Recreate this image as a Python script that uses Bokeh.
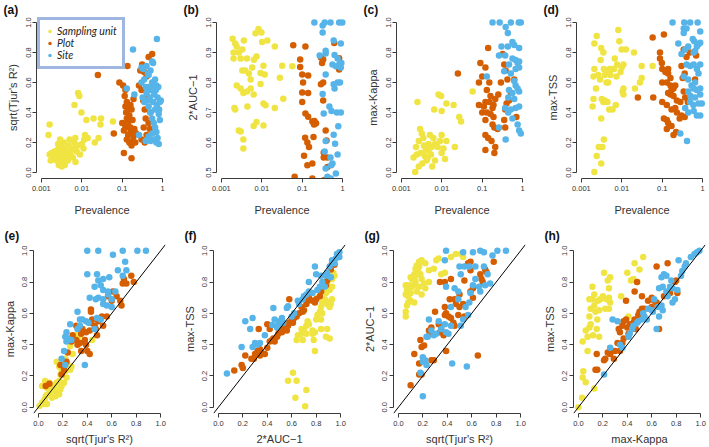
from bokeh.plotting import figure
from bokeh.models import (Range1d, FixedTicker, CustomJSTickFormatter, Slope,
                          Legend, LegendItem)
from bokeh.layouts import column, row
from bokeh.embed import file_html
from bokeh.resources import INLINE

YEL = "#F0E442"
ORA = "#D55E00"
BLU = "#56B4E9"

SERIES = ["Sampling unit", "Plot", "Site"]
PREV_TICKS = [0.001, 0.01, 0.1, 1]
UNIT_TICKS = [0.0, 0.2, 0.4, 0.6, 0.8, 1.0]
AUC_TICKS = [0.5, 0.6, 0.7, 0.8, 0.9, 1.0]

# ---------- (a) prevalence vs sqrt(Tjur's R2)
A_SU = [(0.0022,0.12),(0.0024,0.08),(0.0025,0.15),(0.0027,0.05),(0.0028,0.10),(0.0029,0.13),(0.0030,0.17),(0.0031,0.07),
        (0.0032,0.11),(0.0033,0.14),(0.0034,0.09),(0.0035,0.12),(0.0036,0.20),(0.0037,0.06),(0.0038,0.16),(0.0040,0.10),
        (0.0042,0.13),(0.0045,0.08),(0.0047,0.18),(0.0050,0.22),(0.0052,0.12),(0.0055,0.15),(0.0060,0.10),(0.0065,0.20),
        (0.0070,0.07),(0.0075,0.14),(0.0080,0.18),(0.0090,0.12),(0.0100,0.19),(0.0110,0.16),(0.0115,0.22),(0.0120,0.25),
        (0.0026,0.19),(0.0023,0.10),(0.0021,0.14),(0.0019,0.09),(0.0018,0.13),(0.0029,0.22),(0.0032,0.04),(0.0038,0.05),
        (0.0044,0.11),(0.0062,0.16),(0.0069,0.23),(0.0016,0.12),(0.0017,0.08),(0.0016,0.32),(0.0015,0.25),(0.0081,0.53),
        (0.0087,0.51),(0.0066,0.45),(0.0098,0.40),(0.0130,0.35),(0.0195,0.36),(0.0300,0.36),(0.0290,0.32),(0.0260,0.23),
        (0.0210,0.20),(0.0140,0.23),(0.0590,0.34)]
A_PL = [(0.025,0.65),(0.062,0.26),(0.085,0.60),(0.105,0.58),(0.11,0.13),(0.17,0.095),(0.135,0.71),(0.115,0.51),(0.12,0.44),
        (0.125,0.40),(0.13,0.36),(0.12,0.30),(0.11,0.28),(0.13,0.22),(0.14,0.42),(0.15,0.38),(0.14,0.33),(0.16,0.27),
        (0.15,0.20),(0.17,0.18),(0.18,0.21),(0.19,0.24),(0.16,0.45),(0.18,0.35),(0.20,0.29),(0.21,0.20),(0.22,0.26),
        (0.17,0.42),(0.19,0.49),(0.13,0.47),(0.28,0.68),(0.31,0.72),(0.35,0.67),(0.40,0.64),(0.45,0.77),(0.55,0.79),
        (0.58,0.60),(0.33,0.48),(0.36,0.42),(0.38,0.36),(0.34,0.30),(0.40,0.25),(0.45,0.33),(0.50,0.40),(0.42,0.50),
        (0.30,0.55),(0.48,0.29),(0.36,0.20),(0.30,0.22),(0.26,0.58),(0.12,0.55),(0.10,0.33),(0.14,0.25),(0.16,0.30)]
A_SI = [(0.185,0.82),(0.72,0.89),(0.13,0.56),(0.20,0.52),(0.26,0.25),(0.30,0.70),(0.33,0.69),(0.35,0.62),(0.30,0.60),
        (0.38,0.57),(0.40,0.53),(0.42,0.48),(0.35,0.47),(0.32,0.50),(0.45,0.44),(0.50,0.40),(0.55,0.36),(0.60,0.33),
        (0.65,0.30),(0.70,0.27),(0.45,0.24),(0.38,0.21),(0.50,0.21),(0.60,0.22),(0.70,0.20),(0.80,0.19),(0.75,0.23),
        (0.55,0.26),(0.85,0.35),(0.80,0.39),(0.90,0.48),(0.85,0.47),(0.75,0.50),(0.68,0.55),(0.60,0.57),(0.55,0.60),
        (0.50,0.55),(0.65,0.62),(0.70,0.58),(0.78,0.57),(0.45,0.65),(0.50,0.68),(0.58,0.73),(0.55,0.74),(0.40,0.71),
        (0.43,0.66),(0.62,0.52),(0.48,0.50),(0.45,0.57),(0.82,0.42),(0.72,0.45),(0.65,0.42),(0.58,0.47)]

# ---------- (b) prevalence vs 2*AUC-1
B_SU = [(0.0019,0.946),(0.0022,0.93),(0.0020,0.90),(0.0020,0.88),(0.0024,0.92),(0.0027,0.90),(0.0030,0.88),(0.0033,0.91),
        (0.0036,0.94),(0.0043,0.88),(0.0039,0.84),(0.0033,0.84),(0.0048,0.83),(0.0058,0.85),(0.0064,0.876),(0.0074,0.887),
        (0.0053,0.81),(0.0024,0.79),(0.0030,0.78),(0.0035,0.765),(0.0043,0.77),(0.0053,0.78),(0.0063,0.76),(0.0022,0.71),
        (0.0021,0.715),(0.0044,0.72),(0.0027,0.64),(0.0030,0.637),(0.0035,0.61),(0.0035,0.58),(0.0063,0.655),(0.0074,0.668),
        (0.0083,0.978),(0.0098,0.967),(0.0070,0.964),(0.0137,0.94),(0.0102,0.935),(0.021,0.92),(0.011,0.856),(0.0118,0.827),
        (0.0093,0.832),(0.0093,0.795),(0.011,0.73),(0.0124,0.724),(0.011,0.657),(0.021,0.715),(0.028,0.816),(0.032,0.856),
        (0.034,0.746),(0.057,0.854)]
B_PL = [(0.060,0.924),(0.12,0.92),(0.089,0.877),(0.089,0.852),(0.10,0.827),(0.105,0.80),(0.14,0.823),(0.10,0.767),
        (0.14,0.765),(0.10,0.735),(0.12,0.697),(0.14,0.686),(0.178,0.67),(0.20,0.672),(0.22,0.664),(0.196,0.66),
        (0.118,0.616),(0.134,0.60),(0.147,0.585),(0.111,0.556),(0.134,0.524),(0.178,0.53),(0.065,0.486),(0.178,0.48),
        (0.19,0.618),(0.31,0.865),(0.29,0.883),(0.33,0.877),(0.29,0.794),(0.33,0.74),(0.33,0.80),(0.34,0.567),
        (0.38,0.64),(0.40,0.607),(0.42,0.55),(0.42,0.518),(0.34,0.55),(0.62,0.932),(0.82,0.881),(0.82,0.843),(0.35,0.475)]
B_SI = [(0.20,1.0),(0.32,0.99),(0.36,1.0),(0.50,1.0),(0.82,1.0),(0.98,1.0),(0.32,0.967),(0.60,0.94),(0.90,0.93),
        (0.27,0.89),(0.38,0.897),(0.63,0.892),(0.75,0.88),(0.56,0.86),(0.68,0.854),(0.82,0.86),(0.93,0.865),(0.90,0.85),
        (0.38,0.827),(0.60,0.794),(0.75,0.80),(0.86,0.80),(0.63,0.78),(0.32,0.762),(0.34,0.697),(0.47,0.72),(0.53,0.705),
        (0.72,0.70),(0.90,0.70),(0.78,0.654),(0.60,0.626),(0.38,0.605),(0.65,0.596),(0.36,0.57),(0.50,0.55),(0.75,0.56),
        (0.56,0.53),(0.52,0.524),(0.38,0.513),(0.68,0.497),(0.42,0.486),(0.51,0.48),(0.38,0.906)]

# ---------- (c) prevalence vs max-Kappa
C_SU = [(0.0022,0.004),(0.0020,0.10),(0.0023,0.17),(0.0027,0.21),(0.0029,0.29),(0.0032,0.26),(0.0035,0.23),(0.0030,0.13),
        (0.0038,0.11),(0.0040,0.15),(0.0045,0.10),(0.0047,0.19),(0.0051,0.25),(0.0056,0.17),(0.0058,0.04),(0.0068,0.08),
        (0.0062,0.23),(0.0079,0.17),(0.0090,0.21),(0.0099,0.25),(0.011,0.16),(0.012,0.09),(0.0099,0.13),(0.0033,0.06),
        (0.0027,0.04),(0.0024,0.12),(0.0042,0.08),(0.0054,0.12),(0.0068,0.19),(0.0036,0.18),(0.0025,0.47),(0.0065,0.42),
        (0.0083,0.52),(0.0096,0.51),(0.0099,0.41),(0.013,0.46),(0.0196,0.45),(0.021,0.17),(0.027,0.37),(0.030,0.34),
        (0.058,0.54),(0.013,0.21),(0.0047,0.15)]
C_PL = [(0.025,0.66),(0.090,0.73),(0.10,0.64),(0.083,0.60),(0.14,0.83),(0.12,0.70),(0.15,0.60),(0.13,0.55),(0.16,0.51),
        (0.18,0.43),(0.12,0.47),(0.10,0.40),(0.11,0.44),(0.13,0.40),(0.16,0.39),(0.19,0.37),(0.12,0.35),(0.18,0.32),
        (0.20,0.30),(0.14,0.23),(0.12,0.25),(0.17,0.21),(0.12,0.15),(0.20,0.13),(0.21,0.17),(0.24,0.29),(0.21,0.49),
        (0.25,0.52),(0.29,0.60),(0.32,0.79),(0.38,0.68),(0.35,0.72),(0.42,0.62),(0.40,0.46),(0.37,0.42),(0.35,0.35),
        (0.37,0.30),(0.46,0.48),(0.51,0.53),(0.62,0.62),(0.70,0.37),(0.083,0.45),(0.15,0.47),(0.19,0.45)]
C_SI = [(0.18,1.0),(0.27,1.0),(0.51,1.0),(0.80,1.0),(0.90,1.0),(0.38,0.97),(0.43,0.93),(0.56,0.87),(0.30,0.84),
        (0.43,0.84),(0.62,0.85),(0.82,0.83),(0.26,0.78),(0.37,0.78),(0.56,0.76),(0.67,0.75),(0.75,0.73),(0.82,0.74),
        (0.46,0.72),(0.35,0.675),(0.51,0.66),(0.13,0.64),(0.67,0.69),(0.82,0.70),(0.62,0.61),(0.67,0.58),(0.46,0.55),
        (0.56,0.53),(0.75,0.56),(0.82,0.54),(0.44,0.50),(0.62,0.49),(0.37,0.43),(0.51,0.42),(0.67,0.43),(0.82,0.44),
        (0.44,0.40),(0.26,0.30),(0.38,0.22),(0.75,0.32),(0.82,0.28),(0.90,0.26),(0.56,0.36)]

# ---------- (d) prevalence vs max-TSS
D_SU = [(0.0019,0.44),(0.0020,0.49),(0.0023,0.56),(0.0020,0.64),(0.0021,0.69),(0.0024,0.91),(0.0021,0.86),(0.0026,0.65),
        (0.0029,0.62),(0.0030,0.75),(0.0031,0.83),(0.0035,0.80),(0.0036,0.69),(0.0038,0.65),(0.0032,0.49),(0.0035,0.47),
        (0.0038,0.48),(0.0044,0.47),(0.0042,0.60),(0.0046,0.60),(0.0049,0.67),(0.0050,0.69),(0.0056,0.69),(0.0052,0.65),
        (0.0049,0.42),(0.0059,0.42),(0.0064,0.69),(0.0067,0.76),(0.0071,0.45),(0.0077,0.72),(0.0082,0.95),(0.0087,0.875),
        (0.0093,0.67),(0.0074,0.64),(0.0099,0.70),(0.011,0.72),(0.0099,0.82),(0.0126,0.82),(0.011,0.56),(0.011,0.52),
        (0.0105,0.54),(0.020,0.80),(0.0212,0.56),(0.028,0.60),(0.031,0.71),(0.031,0.63),(0.058,0.71),(0.0021,0.004),
        (0.0024,0.11),(0.0027,0.17),(0.0033,0.17),(0.0036,0.22),(0.0031,0.06),(0.0031,0.36)]
D_PL = [(0.025,0.50),(0.058,0.90),(0.060,0.50),(0.11,0.92),(0.088,0.80),(0.088,0.76),(0.098,0.73),(0.10,0.69),(0.12,0.67),
        (0.14,0.69),(0.14,0.66),(0.16,0.63),(0.10,0.60),(0.13,0.60),(0.16,0.58),(0.17,0.55),(0.19,0.56),(0.21,0.58),
        (0.14,0.53),(0.16,0.52),(0.19,0.51),(0.23,0.48),(0.10,0.47),(0.13,0.45),(0.17,0.42),(0.21,0.43),(0.23,0.40),
        (0.11,0.36),(0.13,0.35),(0.14,0.33),(0.17,0.31),(0.19,0.25),(0.22,0.27),(0.27,0.36),(0.30,0.38),(0.36,0.37),
        (0.28,0.47),(0.34,0.54),(0.32,0.63),(0.36,0.66),(0.30,0.71),(0.40,0.77),(0.34,0.82),(0.48,0.80),(0.69,0.78),
        (0.43,0.47),(0.37,0.50),(0.65,0.62),(0.13,0.29)]
D_SI = [(0.18,1.0),(0.35,1.0),(0.49,1.0),(0.75,1.0),(0.34,0.96),(0.34,0.93),(0.40,0.96),(0.87,0.94),(0.25,0.86),
        (0.30,0.79),(0.37,0.82),(0.44,0.84),(0.57,0.89),(0.62,0.875),(0.72,0.84),(0.79,0.855),(0.87,0.865),(0.65,0.81),
        (0.60,0.80),(0.40,0.72),(0.49,0.71),(0.60,0.72),(0.72,0.69),(0.87,0.72),(0.34,0.64),(0.44,0.62),(0.79,0.66),
        (0.65,0.60),(0.53,0.58),(0.60,0.56),(0.72,0.55),(0.87,0.56),(0.44,0.54),(0.50,0.51),(0.65,0.50),(0.87,0.52),
        (0.37,0.43),(0.44,0.40),(0.60,0.41),(0.72,0.38),(0.95,0.46),(0.87,0.38),(0.41,0.21),(0.28,0.26),(0.49,0.47),
        (0.79,0.46),(0.59,0.45)]

# ---------- (e) sqrt(Tjur's R2) vs max-Kappa
E_SU = [(0.01,0.01),(0.03,0.03),(0.05,0.05),(0.06,0.07),(0.07,0.08),(0.09,0.09),(0.10,0.10),(0.11,0.11),(0.07,0.125),
        (0.13,0.135),(0.14,0.146),(0.10,0.135),(0.15,0.156),(0.17,0.167),(0.055,0.167),(0.09,0.156),(0.03,0.135),
        (0.14,0.104),(0.17,0.083),(0.18,0.115),(0.19,0.135),(0.21,0.156),(0.18,0.21),(0.19,0.24),(0.22,0.23),(0.23,0.19),
        (0.26,0.24),(0.27,0.26),(0.24,0.27),(0.17,0.26),(0.15,0.29),(0.22,0.31),(0.31,0.46),(0.34,0.46),(0.32,0.44),
        (0.44,0.43),(0.05,0.02),(0.07,0.02),(0.11,0.06),(0.14,0.07),(0.22,0.28),(0.26,0.39),(0.28,0.34)]
E_PL = [(0.06,0.135),(0.09,0.15),(0.18,0.27),(0.19,0.21),(0.21,0.24),(0.23,0.29),(0.24,0.35),(0.27,0.42),(0.28,0.46),
        (0.31,0.43),(0.32,0.40),(0.34,0.41),(0.35,0.47),(0.36,0.50),(0.38,0.43),(0.39,0.40),(0.40,0.36),(0.42,0.34),
        (0.39,0.48),(0.42,0.49),(0.43,0.54),(0.44,0.56),(0.43,0.625),(0.43,0.61),(0.46,0.52),(0.47,0.50),(0.48,0.46),
        (0.49,0.55),(0.52,0.58),(0.53,0.52),(0.56,0.58),(0.57,0.71),(0.60,0.68),(0.61,0.74),(0.64,0.71),(0.67,0.68),
        (0.68,0.65),(0.69,0.79),(0.70,0.82),(0.72,0.79),(0.76,0.84),(0.78,0.80),(0.35,0.36),(0.31,0.52)]
E_SI = [(0.40,1.0),(0.49,1.0),(0.61,0.975),(0.69,1.0),(0.81,1.0),(0.88,1.0),(0.71,0.93),(0.40,0.85),(0.48,0.85),
        (0.49,0.81),(0.53,0.82),(0.58,0.83),(0.65,0.875),(0.69,0.84),(0.72,0.875),(0.46,0.77),(0.51,0.78),(0.53,0.75),
        (0.57,0.74),(0.63,0.74),(0.47,0.69),(0.49,0.70),(0.53,0.69),(0.56,0.65),(0.60,0.64),(0.57,0.72),(0.42,0.70),
        (0.32,0.61),(0.34,0.56),(0.36,0.56),(0.39,0.55),(0.41,0.54),(0.48,0.57),(0.51,0.56),(0.26,0.53),(0.23,0.48),
        (0.22,0.45),(0.24,0.44),(0.27,0.43),(0.23,0.42),(0.21,0.36),(0.19,0.31),(0.22,0.27),(0.38,0.27),(0.34,0.52),
        (0.32,0.50),(0.46,0.50),(0.53,0.66),(0.60,0.69)]

# ---------- (f) 2*AUC-1 vs max-TSS
F_SU = [(0.64,0.43),(0.65,0.46),(0.68,0.47),(0.70,0.50),(0.72,0.52),(0.73,0.55),(0.74,0.53),(0.77,0.49),(0.77,0.47),
        (0.79,0.48),(0.80,0.56),(0.81,0.59),(0.83,0.61),(0.84,0.64),(0.85,0.67),(0.87,0.69),(0.88,0.68),(0.89,0.66),
        (0.91,0.64),(0.92,0.66),(0.93,0.69),(0.85,0.60),(0.84,0.56),(0.84,0.50),(0.88,0.45),(0.91,0.44),(0.89,0.50),
        (0.78,0.43),(0.79,0.36),(0.72,0.47),(0.69,0.43),(0.68,0.50),(0.93,0.82),(0.95,0.84),(0.94,0.86),(0.93,0.77),
        (0.91,0.75),(0.89,0.79),(0.88,0.73),(0.84,0.74),(0.81,0.70),(0.56,0.53),(0.48,0.52),(0.57,0.17),(0.61,0.22),
        (0.64,0.17),(0.63,0.06),(0.72,0.11),(0.71,0.006)]
F_PL = [(0.13,0.235),(0.19,0.27),(0.20,0.25),(0.27,0.31),(0.29,0.31),(0.30,0.34),(0.32,0.36),(0.34,0.37),(0.34,0.33),
        (0.35,0.35),(0.38,0.34),(0.40,0.38),(0.42,0.42),(0.44,0.43),(0.45,0.44),(0.46,0.42),(0.48,0.45),(0.49,0.47),
        (0.50,0.49),(0.52,0.48),(0.53,0.50),(0.54,0.51),(0.56,0.49),(0.57,0.52),(0.58,0.54),(0.60,0.56),(0.61,0.54),
        (0.62,0.57),(0.64,0.58),(0.66,0.60),(0.68,0.64),(0.69,0.61),(0.70,0.62),(0.72,0.66),(0.73,0.68),(0.74,0.70),
        (0.77,0.68),(0.79,0.67),(0.80,0.69),(0.83,0.71),(0.84,0.74),(0.85,0.77),(0.88,0.78),(0.89,0.81),(0.91,0.83),
        (0.92,0.88),(0.93,0.92),(0.95,0.91),(0.42,0.50),(0.40,0.53),(0.58,0.69),(0.33,0.50),(0.22,0.33)]
F_SI = [(0.07,0.215),(0.19,0.385),(0.22,0.55),(0.26,0.50),(0.28,0.57),(0.28,0.385),(0.30,0.41),(0.32,0.40),(0.34,0.41),
        (0.38,0.46),(0.44,0.525),(0.45,0.635),(0.46,0.56),(0.48,0.51),(0.49,0.525),(0.50,0.55),(0.52,0.57),(0.53,0.54),
        (0.56,0.635),(0.57,0.645),(0.60,0.58),(0.62,0.60),(0.65,0.68),(0.66,0.66),(0.69,0.69),(0.72,0.72),(0.74,0.74),
        (0.77,0.73),(0.79,0.90),(0.80,0.85),(0.83,0.77),(0.84,0.84),(0.85,0.80),(0.87,0.77),(0.88,0.84),(0.89,0.86),
        (0.91,0.90),(0.92,0.83),(0.93,0.94),(0.95,0.92),(0.96,0.95),(0.97,0.98),(0.99,0.99),(0.99,0.96),(0.81,0.75),
        (0.74,0.80),(0.70,0.71)]

# ---------- (g) sqrt(Tjur's R2) vs 2*AUC-1
G_SU = [(0.06,0.58),(0.06,0.61),(0.07,0.65),(0.08,0.67),(0.06,0.72),(0.08,0.71),(0.10,0.73),(0.06,0.78),(0.09,0.78),
        (0.11,0.77),(0.13,0.78),(0.14,0.80),(0.11,0.82),(0.10,0.83),(0.13,0.85),(0.14,0.885),(0.15,0.906),(0.17,0.93),
        (0.16,0.88),(0.18,0.85),(0.19,0.82),(0.21,0.79),(0.22,0.76),(0.25,0.80),(0.17,0.77),(0.15,0.74),(0.13,0.67),
        (0.10,0.68),(0.19,0.94),(0.22,0.92),(0.25,0.875),(0.29,0.885),(0.31,0.94),(0.33,0.95),(0.35,0.85),(0.38,0.86),
        (0.43,0.96),(0.47,0.98),(0.51,0.98),(0.53,0.96),(0.17,0.90),(0.14,0.84),(0.07,0.75),(0.19,0.72),(0.13,0.82)]
G_PL = [(0.10,0.14),(0.13,0.34),(0.17,0.28),(0.17,0.21),(0.19,0.21),(0.19,0.385),(0.21,0.395),(0.18,0.43),(0.25,0.49),
        (0.26,0.47),(0.27,0.51),(0.27,0.30),(0.29,0.30),(0.30,0.61),(0.33,0.53),(0.34,0.48),(0.35,0.50),(0.37,0.46),
        (0.38,0.64),(0.39,0.60),(0.38,0.59),(0.41,0.58),(0.42,0.69),(0.43,0.57),(0.45,0.54),(0.46,0.52),(0.39,0.36),
        (0.34,0.80),(0.38,0.80),(0.43,0.82),(0.46,0.69),(0.47,0.66),(0.50,0.64),(0.53,0.66),(0.54,0.81),(0.57,0.92),
        (0.59,0.93),(0.59,0.875),(0.61,0.76),(0.59,0.74),(0.61,0.70),(0.67,0.85),(0.68,0.82),(0.69,0.80),(0.71,0.88),
        (0.72,0.865),(0.78,0.93),(0.65,0.33),(0.50,0.72),(0.49,0.59),(0.54,0.58)]
G_SI = [(0.20,0.07),(0.18,0.22),(0.20,0.29),(0.22,0.30),(0.23,0.27),(0.20,0.32),(0.23,0.45),(0.24,0.45),(0.25,0.56),
        (0.27,0.49),(0.29,0.46),(0.31,0.47),(0.33,0.55),(0.35,0.50),(0.38,0.53),(0.39,0.48),(0.41,0.47),(0.43,0.52),
        (0.44,0.28),(0.51,0.52),(0.53,0.56),(0.55,0.64),(0.57,0.59),(0.58,0.67),(0.59,0.73),(0.61,0.78),(0.63,0.82),
        (0.66,0.77),(0.71,0.78),(0.75,0.79),(0.51,0.85),(0.50,0.90),(0.54,0.90),(0.58,0.90),(0.63,0.90),(0.70,0.90),
        (0.73,0.85),(0.67,0.74),(0.46,0.76),(0.49,0.74),(0.39,0.77),(0.38,0.94),(0.39,1.0),(0.53,0.99),(0.61,0.99),
        (0.67,1.0),(0.70,0.99),(0.81,1.0),(0.88,1.0),(0.77,0.97),(0.56,0.26),(0.43,0.64),(0.49,0.69)]

# ---------- (h) max-Kappa vs max-TSS
H_SU = [(0.03,0.06),(0.035,0.19),(0.04,0.23),(0.06,0.16),(0.035,0.42),(0.06,0.49),(0.075,0.45),(0.09,0.51),(0.10,0.53),
        (0.075,0.36),(0.09,0.58),(0.10,0.63),(0.09,0.69),(0.115,0.69),(0.13,0.65),(0.13,0.72),(0.115,0.77),(0.14,0.61),
        (0.155,0.56),(0.17,0.62),(0.16,0.68),(0.18,0.69),(0.20,0.71),(0.17,0.45),(0.15,0.50),(0.12,0.46),(0.21,0.86),
        (0.24,0.81),(0.26,0.83),(0.25,0.76),(0.23,0.69),(0.25,0.70),(0.26,0.67),(0.22,0.63),(0.25,0.63),(0.35,0.71),
        (0.40,0.86),(0.43,0.81),(0.46,0.92),(0.45,0.82),(0.50,0.88),(0.53,0.96),(0.48,0.80),(0.13,0.12),(0.41,0.58),
        (0.0,0.0)]
H_PL = [(0.14,0.24),(0.155,0.24),(0.15,0.34),(0.21,0.30),(0.22,0.31),(0.24,0.35),(0.26,0.34),(0.28,0.36),(0.29,0.31),
        (0.30,0.36),(0.32,0.41),(0.34,0.36),(0.36,0.41),(0.37,0.44),(0.34,0.48),(0.33,0.50),(0.36,0.52),(0.37,0.55),
        (0.39,0.56),(0.40,0.51),(0.41,0.47),(0.42,0.53),(0.44,0.52),(0.45,0.54),(0.46,0.56),(0.47,0.50),(0.49,0.59),
        (0.50,0.61),(0.52,0.63),(0.54,0.63),(0.57,0.68),(0.60,0.64),(0.62,0.68),(0.64,0.67),(0.66,0.65),(0.66,0.50),
        (0.46,0.74),(0.48,0.80),(0.64,0.90),(0.73,0.92),(0.60,0.70),(0.39,0.68),(0.52,0.71),(0.70,0.71),(0.75,0.73),
        (0.79,0.80),(0.80,0.81),(0.81,0.73)]
H_SI = [(0.21,0.21),(0.26,0.38),(0.28,0.56),(0.32,0.55),(0.34,0.40),(0.36,0.38),(0.41,0.45),(0.42,0.47),(0.44,0.50),
        (0.45,0.52),(0.48,0.54),(0.49,0.55),(0.52,0.56),(0.53,0.60),(0.54,0.58),(0.56,0.56),(0.57,0.63),(0.60,0.62),
        (0.61,0.61),(0.64,0.50),(0.65,0.64),(0.68,0.65),(0.69,0.62),(0.68,0.83),(0.70,0.85),(0.72,0.84),(0.69,0.77),
        (0.72,0.74),(0.75,0.77),(0.76,0.81),(0.77,0.76),(0.79,0.69),(0.81,0.75),(0.82,0.94),(0.84,0.84),(0.85,0.87),
        (0.87,0.90),(0.88,0.92),(0.92,0.96),(0.95,0.98),(0.97,0.99),(0.99,1.0),(0.66,0.76),(0.73,0.71),(0.77,0.67),
        (0.62,0.69),(0.66,0.58)]

PANELS = [
    ("(a)", A_SU, A_PL, A_SI, "Prevalence", "sqrt(Tjur's R\u00b2)", True, "unit", True),
    ("(b)", B_SU, B_PL, B_SI, "Prevalence", "2*AUC\u22121", True, "auc", False),
    ("(c)", C_SU, C_PL, C_SI, "Prevalence", "max-Kappa", True, "unit", False),
    ("(d)", D_SU, D_PL, D_SI, "Prevalence", "max-TSS", True, "unit", False),
    ("(e)", E_SU, E_PL, E_SI, "sqrt(Tjur's R\u00b2)", "max-Kappa", False, "unit", False),
    ("(f)", F_SU, F_PL, F_SI, "2*AUC\u22121", "max-TSS", False, "unit", False),
    ("(g)", G_SU, G_PL, G_SI, "sqrt(Tjur's R\u00b2)", "2*AUC\u22121", False, "unit", False),
    ("(h)", H_SU, H_PL, H_SI, "max-Kappa", "max-TSS", False, "unit", False),
]

FONT = "Liberation Sans"
AX_COL = "#3a3a3a"
TXT_COL = "#333333"
TOTAL_W = 709
COL_W = 180


def make_panel(i, spec):
    tag, su, pl, si, xlab, ylab, logx, ykind, legend = spec
    top = i < 4
    c = i % 4
    if top:
        L, F = 36, 131
        T, FH, B = 14, 164, 40
    else:
        L, F = 32, 133
        T, FH, B = 26, 170, 33
    R = COL_W - L - F if c < 3 else TOTAL_W - 3 * COL_W - L - F
    w = L + F + R
    h = T + FH + B
    if logx:
        xr = Range1d(10 ** -3.12, 10 ** 0.12)
    else:
        xr = Range1d(-0.04, 1.04)
    if ykind == "auc":
        yr = Range1d(0.48, 1.02)
    else:
        yr = Range1d(-0.04, 1.04)
    p = figure(width=w, height=h, x_range=xr, y_range=yr,
               x_axis_type="log" if logx else "linear",
               output_backend="svg", toolbar_location=None,
               min_border_left=L, min_border_right=R, min_border_top=T, min_border_bottom=B)
    p.xgrid.visible = False
    p.ygrid.visible = False
    p.outline_line_color = None
    p.background_fill_color = "white"
    p.border_fill_color = "white"

    # panel tag as title
    p.title.text = tag
    p.title.align = "left"
    p.title.offset = -(L - 3)
    p.title.standoff = 0 if top else 4
    p.title.text_font = FONT
    p.title.text_font_style = "bold"
    p.title.text_font_size = "12px"
    p.title.text_color = "#111111"

    rs = []
    for pts, col in ((su, YEL), (pl, ORA), (si, BLU)):
        xs = [a for a, b in pts]
        ys = [b for a, b in pts]
        r = p.scatter(xs, ys, size=6.5, fill_color=col, line_color=None)
        rs.append(r)

    if not logx:
        p.add_layout(Slope(gradient=1, y_intercept=0, line_color="black", line_width=1))

    # axes
    if logx:
        p.xaxis.ticker = FixedTicker(ticks=PREV_TICKS)
        p.xaxis.formatter = CustomJSTickFormatter(code="return String(tick);")
        p.xaxis.bounds = (PREV_TICKS[0], PREV_TICKS[-1])
    else:
        p.xaxis.ticker = FixedTicker(ticks=UNIT_TICKS)
        p.xaxis.formatter = CustomJSTickFormatter(code="return tick.toFixed(1);")
        p.xaxis.bounds = (0, 1)
    yt = AUC_TICKS if ykind == "auc" else UNIT_TICKS
    p.yaxis.ticker = FixedTicker(ticks=yt)
    p.yaxis.formatter = CustomJSTickFormatter(code="return tick.toFixed(1);")
    p.yaxis.bounds = (yt[0], yt[-1])
    p.yaxis.major_label_orientation = "vertical"
    for ax in (p.xaxis[0], p.yaxis[0]):
        ax.axis_line_color = AX_COL
        ax.major_tick_line_color = AX_COL
        ax.minor_tick_line_color = None
        ax.major_tick_out = 4
        ax.major_tick_in = 0
        ax.major_label_text_font = FONT
        ax.major_label_text_font_size = "7.5px"
        ax.major_label_text_color = TXT_COL
        ax.major_label_standoff = 3
        ax.axis_label_text_font = FONT
        ax.axis_label_text_font_size = "11px"
        ax.axis_label_text_font_style = "normal"
        ax.axis_label_text_color = TXT_COL
    p.xaxis.axis_label = xlab
    p.yaxis.axis_label = ylab
    p.xaxis.axis_label_standoff = 10 if top else 4
    p.yaxis.axis_label_standoff = 4
    p.yaxis.major_label_standoff = 2

    if legend:
        lg = Legend(items=[LegendItem(label=SERIES[k], renderers=[rs[k]]) for k in range(3)],
                    location="top_left")
        lg.label_text_font = "Lato"
        lg.label_text_font_style = "italic"
        lg.label_text_font_size = "10.5px"
        lg.label_text_line_height = 0.9
        lg.label_text_color = "#222222"
        lg.border_line_color = "#3F6DC2"
        lg.border_line_width = 3
        lg.padding = 5
        lg.spacing = 0
        lg.margin = 1
        lg.glyph_width = 9
        lg.glyph_height = 10
        lg.label_standoff = 3
        lg.label_height = 10
        lg.background_fill_color = "white"
        lg.background_fill_alpha = 1.0
        p.add_layout(lg)
    return p


figs = [make_panel(i, s) for i, s in enumerate(PANELS)]
layout = column(row(*figs[:4]), row(*figs[4:]))

open("out.html", "w").write(file_html(layout, INLINE))
